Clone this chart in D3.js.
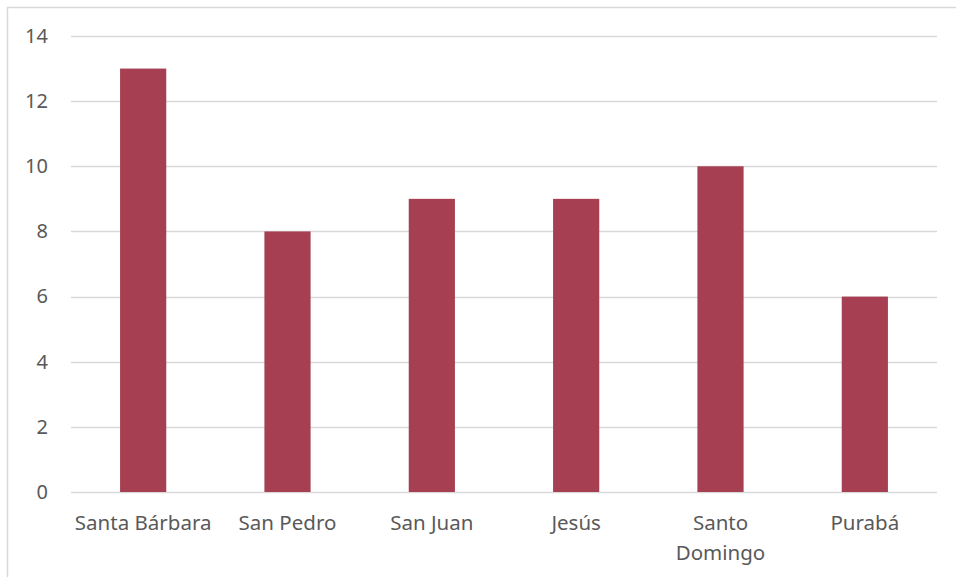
<!DOCTYPE html>
<html>
<head>
<meta charset="utf-8">
<script src="https://cdn.jsdelivr.net/npm/d3@7"></script>
<style>
  html, body { margin: 0; padding: 0; background: #fff; }
  svg { display: block; }
</style>
</head>
<body>
<div id="chart"></div>
<script>
// Number of cases per locality
const categories = ["Santa Bárbara", "San Pedro", "San Juan", "Jesús", "Santo Domingo", "Purabá"];
const values = [13, 8, 9, 9, 10, 6];
const yTicks = [0, 2, 4, 6, 8, 10, 12, 14];

const W = 956, H = 577;
const margin = { left: 71, right: 19, top: 36, bottom: 85 };
const FONT = "'Noto Sans', 'Open Sans', sans-serif";

const svg = d3.select("#chart").append("svg")
  .attr("width", W).attr("height", H);

// chart area frame
svg.append("path")
  .attr("d", `M7.5,${H} V7.5 H${W}`)
  .attr("fill", "none")
  .attr("stroke", "#d9d9d9")
  .attr("stroke-width", 1.5);

const x = d3.scaleBand()
  .domain(categories)
  .range([margin.left, W - margin.right])
  .paddingInner(0.68)
  .paddingOuter(0.34);

const y = d3.scaleLinear()
  .domain([0, 14])
  .range([H - margin.bottom, margin.top]);

// horizontal gridlines
svg.append("g")
  .selectAll("line")
  .data(yTicks)
  .join("line")
  .attr("x1", margin.left)
  .attr("x2", W - margin.right)
  .attr("y1", d => Math.round(y(d)) + 0.5)
  .attr("y2", d => Math.round(y(d)) + 0.5)
  .attr("stroke", "#d9d9d9")
  .attr("stroke-width", 1.5);

// y axis labels
const yAxis = d3.axisLeft(y).tickValues(yTicks).tickSize(0).tickPadding(0);
svg.append("g")
  .attr("transform", `translate(${margin.left - 23},0)`)
  .call(yAxis)
  .call(g => g.select(".domain").remove())
  .call(g => g.selectAll("text")
    .attr("fill", "#595959")
    .attr("font-family", FONT)
    .attr("font-size", 20));

// bars
svg.append("g")
  .selectAll("rect")
  .data(categories.map((c, i) => ({ c, v: values[i] })))
  .join("rect")
  .attr("x", d => x(d.c))
  .attr("width", x.bandwidth())
  .attr("y", d => y(d.v))
  .attr("height", d => y(0) - y(d.v))
  .attr("fill", "#a53f51");

// category labels (wrapped when too wide for the band)
const labelY = 38;
const xAxis = d3.axisBottom(x).tickSize(0).tickPadding(0);
svg.append("g")
  .attr("transform", `translate(0,${y(0)})`)
  .call(xAxis)
  .call(g => g.select(".domain").remove())
  .call(g => g.selectAll("text")
    .attr("fill", "#595959")
    .attr("font-family", FONT)
    .attr("font-size", 20.5)
    .attr("dy", null)
    .attr("y", labelY)
    .each(function(d) {
      const t = d3.select(this);
      if (d === "Santo Domingo") {
        const words = d.split(" ");
        t.text(null);
        words.forEach((w, i) => {
          t.append("tspan").attr("x", 0).attr("y", labelY + i * 30).text(w);
        });
      }
    }));
</script>
</body>
</html>
